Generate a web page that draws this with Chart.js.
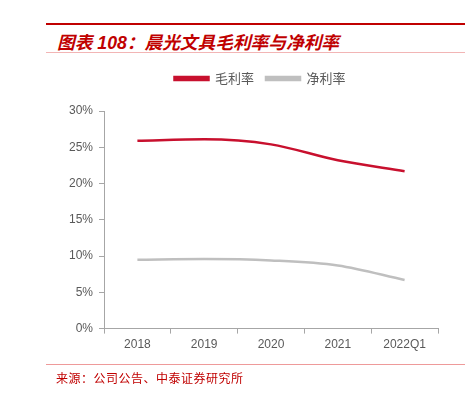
<!DOCTYPE html>
<html>
<head>
<meta charset="utf-8">
<script src="https://cdn.jsdelivr.net/npm/chart.js@4"></script>
<style>
  body { margin: 0; background: #fff; }
  #wrap { position: relative; width: 476px; height: 399px; }
  #chart { position: absolute; left: 0; top: 0; }
  .rule { position: absolute; left: 46px; width: 419px; }
  #title {
    position: absolute; left: 57px; top: 28px;
    font: italic bold 17.7px "Liberation Sans", "Noto Sans CJK SC", sans-serif;
    color: #c00000; white-space: nowrap;
  }
  #source {
    position: absolute; left: 56px; top: 369px;
    font: 12px "Noto Sans CJK SC", sans-serif; letter-spacing: 0.5px;
    color: #c00000; white-space: nowrap;
  }
</style>
</head>
<body>
<div id="wrap">
  <div class="rule" style="top:23px;height:2px;background:#c00000"></div>
  <div id="title">图表 108：晨光文具毛利率与净利率</div>
  <div class="rule" style="top:52px;height:1px;background:#f2b5b5"></div>
  <canvas id="chart" width="476" height="399"></canvas>
  <div class="rule" style="top:364px;height:1px;background:#ee9a9a"></div>
  <div id="source">来源：公司公告、中泰证券研究所</div>
</div>
<script>
const years = ["2018", "2019", "2020", "2021", "2022Q1"];
const grossMargin = [25.9, 26.1, 25.4, 23.2, 21.7];
const netMargin = [9.5, 9.6, 9.4, 8.7, 6.7];
const yTicks = [0, 5, 10, 15, 20, 25, 30];

const axisColor = "#a6a6a6";
const textColor = "#595959";

// legend sits a bit right of centre, with extra room below it
const legendTweak = {
  id: "legendTweak",
  beforeInit(chart) {
    const lg = chart.legend;
    const fit = lg.fit;
    lg.fit = function () { fit.call(this); this.height += 16; };
  },
  afterLayout(chart) {
    chart.legend.left += 21;
    chart.legend.right += 21;
  }
};

new Chart(document.getElementById("chart"), {
  type: "line",
  data: {
    labels: years,
    datasets: [
      {
        label: "毛利率",
        data: grossMargin,
        borderColor: "#c8102e",
        backgroundColor: "#c8102e",
        borderWidth: 2.5,
        pointRadius: 0,
        cubicInterpolationMode: "monotone"
      },
      {
        label: "净利率",
        data: netMargin,
        borderColor: "#bfbfbf",
        backgroundColor: "#bfbfbf",
        borderWidth: 2.5,
        pointRadius: 0,
        cubicInterpolationMode: "monotone"
      }
    ]
  },
  options: {
    responsive: false,
    animation: false,
    layout: { padding: { left: 40, right: 38, top: 60, bottom: 43 } },
    plugins: {
      tooltip: { enabled: false },
      legend: {
        position: "top",
        labels: {
          boxWidth: 34,
          boxHeight: 3,
          padding: 12,
          color: textColor,
          font: { family: "'Noto Sans CJK SC', sans-serif", size: 13 }
        }
      }
    },
    scales: {
      x: {
        offset: true,
        grid: { offset: true, drawOnChartArea: false, tickLength: 5, color: axisColor },
        border: { color: axisColor },
        ticks: { color: textColor, padding: 4, font: { family: "'Liberation Sans', Arial", size: 12 } }
      },
      y: {
        min: 0,
        max: 30,
        afterFit: s => { s.width = 64; },
        afterBuildTicks: s => { s.ticks = yTicks.map(v => ({ value: v })); },
        grid: { drawOnChartArea: false, tickLength: 5, color: axisColor },
        border: { color: axisColor },
        ticks: {
          color: textColor,
          padding: 6,
          font: { family: "'Liberation Sans', Arial", size: 12 },
          callback: v => v + "%"
        }
      }
    }
  },
  plugins: [legendTweak]
});
</script>
</body>
</html>
